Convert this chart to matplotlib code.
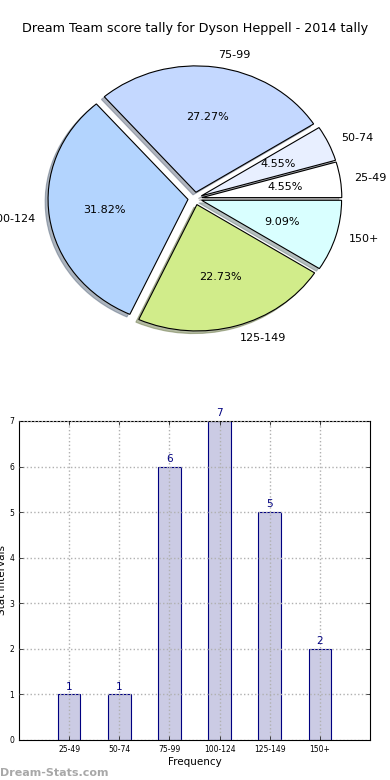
import matplotlib
matplotlib.use("Agg")
import matplotlib.pyplot as plt
import numpy as np

# data
intervals = ["25-49", "50-74", "75-99", "100-124", "125-149", "150+"]
counts = [1, 1, 6, 7, 5, 2]
slice_colors = ["#ffffff", "#e8efff", "#c4d8ff", "#b3d4fe", "#d1ec8a", "#d9ffff"]

fig = plt.figure(figsize=(3.9, 7.8), dpi=100)

# pie (old-style, not forced to be round)
ax1 = fig.add_axes([0.0513, 0.543, 0.897, 0.405])
ax1.pie(counts, labels=intervals, colors=slice_colors, explode=[0.05] * 6,
        autopct="%1.2f%%", startangle=0,
        shadow=dict(ox=-0.015, oy=-0.015, shade=0.5),
        wedgeprops=dict(edgecolor="black", linewidth=0.8),
        textprops=dict(fontsize=8))
ax1.set_aspect("auto")
ax1.set_xlim(-1.25, 1.25)
ax1.set_ylim(-1.25, 1.25)
ax1.set_title("Dream Team score tally for Dyson Heppell - 2014 tally", fontsize=9.2)

# bar chart
ax2 = fig.add_axes([0.0487, 0.0513, 0.9, 0.409])
x = np.arange(1, len(counts) + 1)
ax2.bar(x, counts, width=0.45, color="#cbcbe4", edgecolor="#000080", linewidth=0.8)
for xi, c in zip(x, counts):
    ax2.text(xi, c + 0.06, str(c), ha="center", va="bottom", color="#000080", fontsize=7.5)
ax2.set_xlim(0, 7)
ax2.set_ylim(0, 7)
ax2.set_xticks(x)
ax2.set_xticklabels(intervals)
ax2.set_yticks(range(8))
ax2.tick_params(direction="in", top=True, right=True, labelsize=5.5, length=3, width=0.5)
ax2.grid(True, linestyle=":", color="#b0b0b0", linewidth=1)
ax2.set_axisbelow(False)
ax2.set_xlabel("Frequency", fontsize=7.5, labelpad=2)
ax2.set_ylabel("Stat Intervals", fontsize=7.5)
ax2.yaxis.set_label_coords(-0.035, 0.5)

fig.text(0.0, 0.005, "Dream-Stats.com", fontsize=8, weight="bold", color="#a8a8a8")

fig.savefig("out.png", dpi=100)
